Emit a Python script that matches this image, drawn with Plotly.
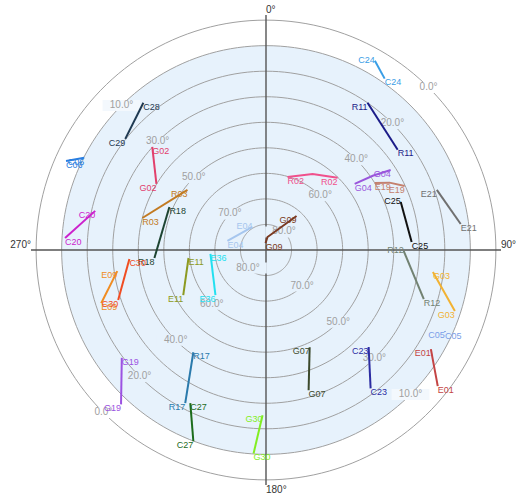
import plotly.graph_objects as go

# ---- data: satellite tracks (azimuth deg, elevation deg) ----
sat_start = ["C24", "R11", "R02", "G04", "E19", "C25", "E21", "G09", "E04", "C28",
             "G02", "R03", "R18", "C20", "C06", "E09", "C30", "E11", "E36", "G19",
             "R17", "C27", "G30", "G07", "C23", "E01", "C05", "G03", "R12"]
sat_end = ["C24", "R11", "R02", "G04", "E19", "C25", "E21", "G09", "E04", "C29",
           "G02", "R03", "R18", "C20", "C06", "E09", "C30", "E11", "E36", "G19",
           "R17", "C27", "G30", "G07", "C23", "E01", "C05", "G03", "R12"]
sat_az = [[29.9, 34.7], [34.6, 52.7], [16.4, 31.5, 44.8], [53.3, 55.2, 57.3],
          [58.3, 61.4, 65.2], [70.4, 86.9], [70.6, 82.4], [356.0, 6.6, 41.9],
          [283.2, 329.6], [320.2, 308.3], [312.2, 301.1], [284.5, 307.4],
          [294.0, 265.9], [273.4, 282.9], [294.0, 296.9], [261.9, 252.1],
          [266.2, 251.3], [264.1, 241.4], [265.9, 228.3], [233.2, 223.2],
          [215.4, 207.8], [206.3, 200.8], [181.2, 183.5], [155.8, 163.1],
          [133.4, 142.9], [121.0, 128.4], [114.4, 114.6], [97.5, 107.9],
          [90.4, 107.3]]
sat_el = [[4.5, 8.4], [20.0, 25.2], [60.2, 55.1, 50.2], [46.7, 39.1, 32.0],
          [40.0, 34.9, 30.2], [34.0, 32.9], [19.1, 13.1], [87.3, 84.9, 72.1],
          [74.5, 79.5], [15.0, 19.8], [29.9, 39.9], [40.0, 51.3],
          [48.6, 46.2], [11.2, 21.4], [4.3, 10.2], [31.2, 22.2],
          [36.4, 28.9], [59.5, 53.1], [68.2, 63.5], [19.5, 7.1],
          [40.9, 22.2], [23.1, 9.9], [25.3, 10.2], [48.3, 32.6],
          [34.7, 22.1], [14.7, 4.2], [13.1, 12.9], [24.1, 12.3],
          [36.1, 25.3]]
sat_colors = ["#3a9ee6", "#1c1c88", "#f0508c", "#9a56dc", "#c4806e", "#111111",
              "#707070", "#7a3a22", "#a6c6ee", "#1f3a52", "#e2406c", "#c27a22",
              "#1e4432", "#cc22cc", "#2a7ee0", "#f08c22", "#f04c22", "#8c9a22",
              "#22e0f0", "#9c52e2", "#2a7aac", "#1c6c1c", "#82ee22", "#3c4a2c",
              "#2c2ca2", "#c44444", "#7a9ee8", "#f2b232", "#728272"]
start_pos = ["middle left", "bottom left", "bottom right", "bottom right", "bottom right",
             "middle left", "bottom left", "bottom right", "bottom right", "bottom right",
             "bottom right", "bottom right", "bottom right", "bottom right", "bottom right",
             "bottom left", "bottom right", "bottom right", "bottom right", "bottom right",
             "bottom right", "bottom right", "bottom left", "bottom left", "bottom left",
             "bottom left", "bottom left", "bottom right", "middle left"]
end_pos = ["bottom right", "bottom right", "bottom left", "bottom left", "bottom left",
           "bottom right", "bottom right", "bottom left", "middle left", "bottom left",
           "bottom left", "bottom left", "bottom left", "bottom left", "bottom left",
           "bottom right", "bottom left", "bottom left", "bottom left", "bottom left",
           "bottom left", "bottom left", "bottom right", "bottom right", "bottom right",
           "bottom right", "bottom right", "bottom left", "bottom right"]

# ---- grid / labels data ----
ring_els = [0, 10, 20, 30, 40, 50, 60, 70, 80]
ring_label_even = [0, 20, 40, 60, 80]      # shown at 45 and 225 deg
ring_label_odd = [10, 30, 50, 70]          # shown at 135 and 315 deg
mask_el = 10                               # elevation mask (blue area)
cardinal_theta = [0, 90, 180, 270]
cardinal_text = ["0°", "90°", "180°", "270°"]
cardinal_pos = ["top right", "top right", "bottom right", "top left"]
R_MAX = 92

BLUE = "#e7f2fc"
full_theta = [i for i in range(0, 361, 2)]

fig = go.Figure()

# blue area (elevation above mask)
fig.add_trace(go.Scatterpolar(r=[90 - mask_el] * len(full_theta), theta=full_theta,
                              mode="lines", fill="toself", fillcolor=BLUE,
                              line=dict(width=0, color=BLUE), hoverinfo="skip"))
# elevation circles
for el in ring_els:
    fig.add_trace(go.Scatterpolar(r=[90 - el] * len(full_theta), theta=full_theta,
                                  mode="lines", line=dict(color="#a0a0a0", width=1),
                                  hoverinfo="skip"))
# cross axes
for a in [0, 90]:
    fig.add_trace(go.Scatterpolar(r=[R_MAX, 0, R_MAX], theta=[a, a, a + 180],
                                  mode="lines", line=dict(color="#555555", width=1.4),
                                  hoverinfo="skip"))

# ring labels with background masks
lab_r, lab_t, lab_txt, lab_bg = [], [], [], []
for el in ring_label_even:
    for th in [45, 225]:
        lab_r.append(90 - el); lab_t.append(th); lab_txt.append(f"{el:.1f}°")
        lab_bg.append("#ffffff" if el < mask_el else ("#f3f8fd" if el == mask_el else BLUE))
for el in ring_label_odd:
    for th in [135, 315]:
        lab_r.append(90 - el); lab_t.append(th); lab_txt.append(f"{el:.1f}°")
        lab_bg.append("#ffffff" if el < mask_el else ("#f3f8fd" if el == mask_el else BLUE))
fig.add_trace(go.Scatterpolar(r=lab_r, theta=lab_t, mode="markers",
                              marker=dict(symbol="line-ew", size=27,
                                          line=dict(width=11, color=lab_bg)),
                              hoverinfo="skip", cliponaxis=False))
fig.add_trace(go.Scatterpolar(r=lab_r, theta=lab_t, mode="text", text=lab_txt,
                              textposition="middle center",
                              textfont=dict(family="Liberation Sans", size=10, color="#a0a0a0"),
                              hoverinfo="skip", cliponaxis=False))

# satellite tracks
for i in range(len(sat_start)):
    rr = [90 - e for e in sat_el[i]]
    fig.add_trace(go.Scatterpolar(r=rr, theta=sat_az[i], mode="lines",
                                  line=dict(color=sat_colors[i], width=2),
                                  name=sat_start[i], hoverinfo="skip"))
    fig.add_trace(go.Scatterpolar(r=[rr[0], rr[-1]], theta=[sat_az[i][0], sat_az[i][-1]],
                                  mode="text", text=[sat_start[i], sat_end[i]],
                                  textposition=[start_pos[i], end_pos[i]],
                                  textfont=dict(family="Liberation Sans", size=9,
                                                color=sat_colors[i]),
                                  hoverinfo="skip", cliponaxis=False))

# cardinal labels
fig.add_trace(go.Scatterpolar(r=[R_MAX] * 4, theta=cardinal_theta, mode="text",
                              text=cardinal_text, textposition=cardinal_pos,
                              textfont=dict(family="Liberation Sans", size=10, color="#333333"),
                              hoverinfo="skip", cliponaxis=False))

fig.update_layout(
    width=516, height=493,
    margin=dict(l=31, r=15, t=15, b=8),
    paper_bgcolor="white",
    showlegend=False,
    polar=dict(
        domain=dict(x=[0, 1], y=[0, 1]),
        bgcolor="white",
        radialaxis=dict(range=[0, R_MAX], showgrid=False, showline=False,
                        showticklabels=False, ticks=""),
        angularaxis=dict(rotation=90, direction="clockwise", showgrid=False,
                         showline=False, showticklabels=False, ticks=""),
    ),
)

fig.write_html("out.html", config={"displayModeBar": False},
               post_script="document.body.style.margin='0px';")
